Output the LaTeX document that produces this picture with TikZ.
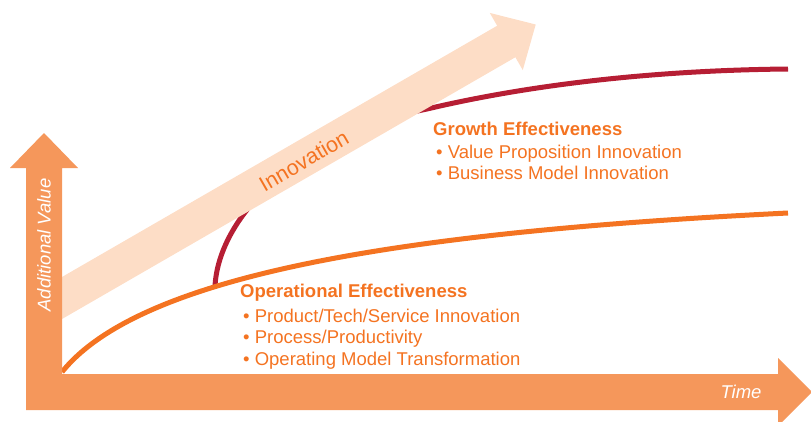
\documentclass[tikz,border=0pt]{standalone}
\usepackage{fontspec}
\setmainfont{Liberation Sans}
\usetikzlibrary{calc}
\definecolor{maxis}{HTML}{F5975B}
\definecolor{mband}{HTML}{FDDDC6}
\definecolor{mop}{HTML}{F47321}
\definecolor{mgrow}{HTML}{B61E34}
\tikzset{
  headtext/.style={anchor=base west, inner sep=0pt, text=mop,
                   font=\fontsize{18.5}{21}\selectfont\bfseries},
  itemtext/.style={anchor=base west, inner sep=0pt, text=mop,
                   font=\fontsize{18.5}{21}\selectfont},
  axistext/.style={inner sep=0pt, text=white,
                   font=\fontsize{18.5}{21}\selectfont\itshape},
  curve/.style={line width=5pt, line cap=butt},
}

\begin{document}
\begin{tikzpicture}[x=1pt, y=-1pt]
    \useasboundingbox (0,0) rectangle (811,421);
    % growth curve, partly under the band
    \draw[curve, mgrow] (215,286) .. controls (219,215) and (300,135) .. (427,109)
        .. controls (550,80) and (680,70) .. (788,69);
    % innovation band
    \begin{scope}[shift={(62,298)}, rotate=30]
      \fill[mband] (-25,-18.2) -- (513,-18.2) -- (513,-33) -- (547,0)
          -- (513,33) -- (513,18.2) -- (-25,18.2) -- cycle;
      \node[inner sep=0pt, text=mop, font=\fontsize{21.5}{24}\selectfont,
            rotate=30] (innov) at (278,2) {Innovation};
    \end{scope}
    % operational curve
    \draw[curve, mop] (62,372) .. controls (140,275) and (400,232) .. (788,213);
    % axes
    \fill[maxis] (26,410) -- (26,168) -- (10,168) -- (44,133) -- (78,168)
        -- (62,168) -- (62,374) -- (778,374) -- (778,358) -- (812,392)
        -- (778,426) -- (778,410) -- cycle;
    \node[axistext, rotate=90] (yaxis) at (44,245) {Additional Value};
    \node[axistext] (xaxis) at (741,392) {Time};

    \node[headtext] (growth) at (433,135) {Growth Effectiveness};
    \node[itemtext] (growth1) at (436,158) {\textbullet\ Value Proposition Innovation};
    \node[itemtext] (growth2) at (436,179) {\textbullet\ Business Model Innovation};

    \node[headtext] (oper) at (240,297) {Operational Effectiveness};
    \node[itemtext] (oper1) at (243,322) {\textbullet\ Product/Tech/Service Innovation};
    \node[itemtext] (oper2) at (243,343) {\textbullet\ Process/Productivity};
    \node[itemtext] (oper3) at (243,365) {\textbullet\ Operating Model Transformation};
\end{tikzpicture}
\end{document}
